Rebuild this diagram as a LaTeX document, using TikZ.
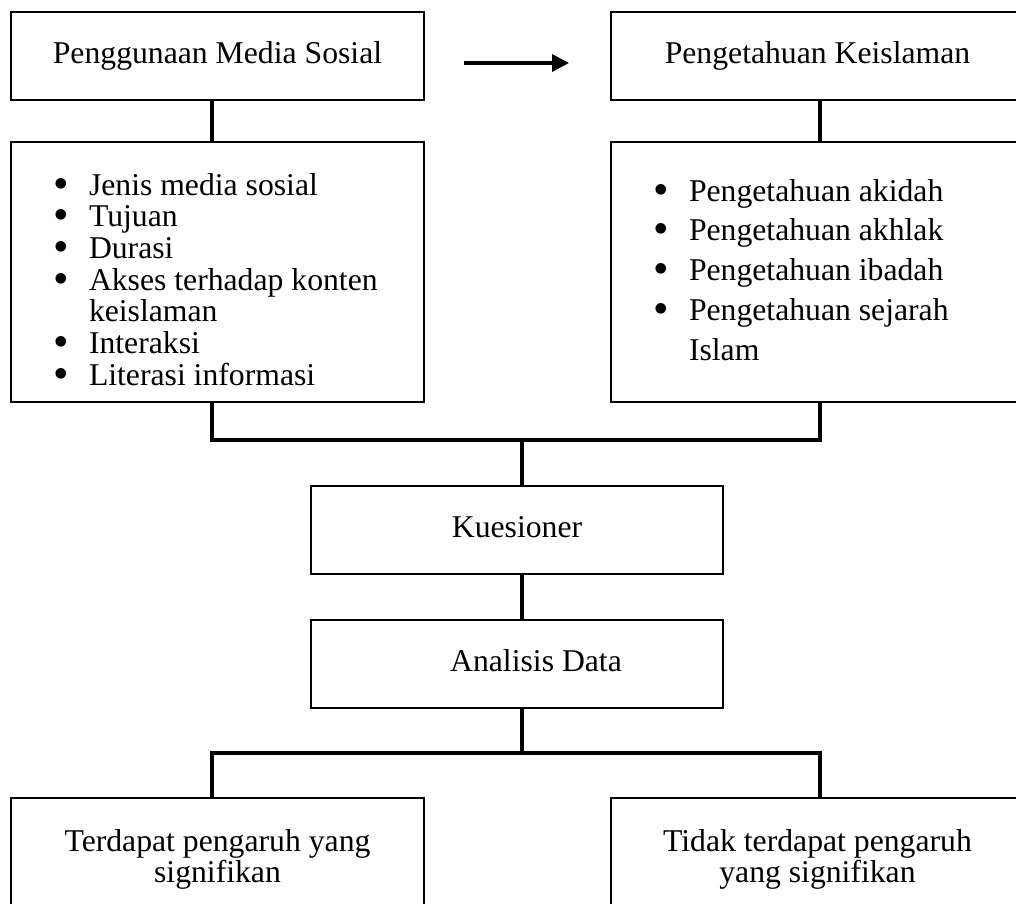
\documentclass[tikz,border=0pt]{standalone}
\usepackage{fontspec}
\setmainfont{Liberation Serif}
\usetikzlibrary{arrows.meta,calc}
\newcommand\mybul{\leavevmode\llap{\makebox[35.5pt][l]{\raisebox{-3pt}{\scalebox{1.4}{\textbullet}}}}}
\begin{document}
\begin{tikzpicture}[x=1pt,y=-1pt,
  every node/.style={font=\fontsize{31.7pt}{31.7pt}\selectfont, outer sep=0pt},
  box/.style={draw=black, line width=1.8pt, rectangle, minimum width=413pt, minimum height=88pt, inner sep=0pt, text height=22pt, text depth=7pt},
  listbox/.style={draw=black, line width=1.8pt, rectangle, inner sep=0pt, anchor=north west},
  conn/.style={line width=3.5pt, draw=black},
]
\clip (0,0) rectangle (1016,903);
\fill[white] (0,0) rectangle (1016,903);

% top boxes
\node[box] (pms) at (217.5,56) {Penggunaan Media Sosial};
\node[box] (pk) at (817.5,56) {Pengetahuan Keislaman};

% list boxes
\node[listbox] (L) at (11,142) {\parbox[c][260pt][t]{413pt}{%
  \setlength{\parindent}{0pt}\setlength{\parskip}{0pt}\setlength{\leftskip}{78pt}%
  \setlength{\baselineskip}{31.7pt}\setlength{\lineskiplimit}{-100pt}%
  \vspace*{31pt}%
  \mybul\rule{0pt}{22pt}Jenis media sosial\par
  \mybul Tujuan\par
  \mybul Durasi\par
  \mybul Akses terhadap konten\newline keislaman\par
  \mybul Interaksi\par
  \mybul Literasi informasi\par}};

\node[listbox] (R) at (611,142) {\parbox[c][260pt][t]{413pt}{%
  \setlength{\parindent}{0pt}\setlength{\parskip}{0pt}\setlength{\leftskip}{78pt}%
  \setlength{\baselineskip}{39.75pt}\setlength{\lineskiplimit}{-100pt}%
  \vspace*{37pt}%
  \mybul\rule{0pt}{22pt}Pengetahuan akidah\par
  \mybul Pengetahuan akhlak\par
  \mybul Pengetahuan ibadah\par
  \mybul Pengetahuan sejarah\newline Islam\par}};

% middle boxes
\node[box, minimum width=412pt] (K) at (517,530) {Kuesioner};
\node[box, minimum width=412pt] (A) at (517,664) {\hspace*{38pt}Analisis Data};

% bottom boxes
\node[listbox] (BL) at (11,798) {\parbox[c][200pt][t]{413pt}{\centering
  \setlength{\baselineskip}{31pt}\setlength{\lineskiplimit}{-100pt}%
  \vspace*{31pt}%
  \rule{0pt}{22pt}Terdapat pengaruh yang\\signifikan\par}};
\node[listbox] (BR) at (611,798) {\parbox[c][200pt][t]{413pt}{\centering
  \setlength{\baselineskip}{31pt}\setlength{\lineskiplimit}{-100pt}%
  \vspace*{31pt}%
  \rule{0pt}{22pt}Tidak terdapat pengaruh\\yang signifikan\par}};

% junctions
\coordinate (j1L) at (212,440);
\coordinate (j1R) at (820,440);
\coordinate (j1C) at (522,440);
\coordinate (j2L) at (212,753);
\coordinate (j2R) at (820,753);
\coordinate (j2C) at (522,753);
\coordinate (a1) at (464,63);
\coordinate (a2) at (569,63);

% connectors
\draw[conn] (pms.south -| j1L) -- (L.north -| j1L);
\draw[conn] (pk.south -| j1R) -- (R.north -| j1R);
\draw[conn] (L.south -| j1L) -- (j1L) -- (j1R) -- (R.south -| j1R);
\draw[conn] (j1C) -- (K.north -| j1C);
\draw[conn] (K.south -| j1C) -- (A.north -| j1C);
\draw[conn] (A.south -| j2C) -- (j2C);
\draw[conn] (BL.north -| j2L) -- (j2L) -- (j2R) -- (BR.north -| j2R);
\draw[conn, -{Triangle[length=17pt,width=17pt]}] (a1) -- (a2);
\end{tikzpicture}
\end{document}
